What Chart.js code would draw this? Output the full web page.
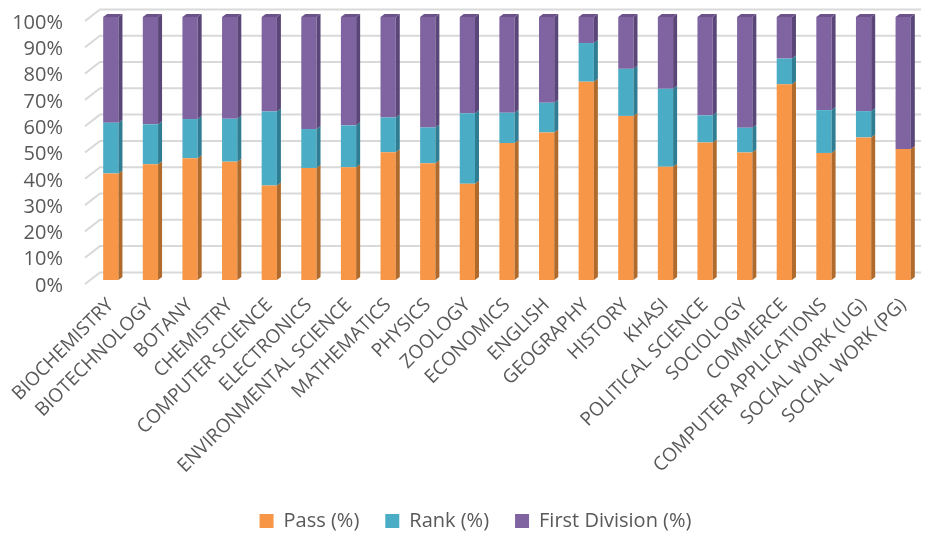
<!DOCTYPE html>
<html>
<head>
<meta charset="utf-8">
<script src="https://cdn.jsdelivr.net/npm/chart.js@4.4.1/dist/chart.umd.min.js"></script>
<style>
  html, body { margin: 0; padding: 0; background: #fff; }
  #wrap { width: 925px; height: 536px; }
</style>
</head>
<body>
<div id="wrap"><canvas id="chart"></canvas></div>
<script>
const categories = ['BIOCHEMISTRY', 'BIOTECHNOLOGY', 'BOTANY', 'CHEMISTRY', 'COMPUTER SCIENCE', 'ELECTRONICS',
    'ENVIRONMENTAL SCIENCE', 'MATHEMATICS', 'PHYSICS', 'ZOOLOGY', 'ECONOMICS', 'ENGLISH', 'GEOGRAPHY', 'HISTORY',
    'KHASI', 'POLITICAL SCIENCE', 'SOCIOLOGY', 'COMMERCE', 'COMPUTER APPLICATIONS', 'SOCIAL WORK (UG)', 'SOCIAL WORK (PG)']

const passPct  = [40.5, 44.0, 46.3, 45.0, 35.9, 42.6, 42.9, 48.6, 44.4, 36.6, 52.1, 56.1, 75.4, 62.4, 43.1, 52.3, 48.5, 74.4, 48.3, 54.2, 49.8]
const rankPct  = [19.3, 15.2, 14.9, 16.3, 28.2, 14.8, 15.9, 13.2, 13.6, 26.8, 11.5, 11.3, 14.7, 17.9, 29.6, 10.3, 9.4, 9.8, 16.3, 10.0, 0]
const firstPct = [40.2, 40.8, 38.8, 38.7, 35.9, 42.6, 41.2, 38.2, 42.0, 36.6, 36.4, 32.6, 9.9, 19.7, 27.3, 37.4, 42.1, 15.8, 35.4, 35.8, 50.2]

const yTicks = [0, 10, 20, 30, 40, 50, 60, 70, 80, 90, 100]

const textColor = '#595959'
const sideColors = ['#b06a2c', '#2f7d92', '#5a4678']
const topColor = '#6b5289'

// back wall gridlines, shifted up/right like the 3D original
const backWall = {
    id: 'backWall',
    beforeDatasetsDraw(chart) {
        const {ctx, chartArea, scales: {y}} = chart
        ctx.save()
        ctx.strokeStyle = '#d9d9d9'
        ctx.lineWidth = 2
        yTicks.forEach(v => {
            const py = y.getPixelForValue(v)
            ctx.beginPath()
            ctx.moveTo(chartArea.left - 6, py + 4)
            ctx.lineTo(chartArea.left + 9, py - 7.6)
            ctx.lineTo(chartArea.right - 2, py - 7.6)
            ctx.stroke()
        })
        ctx.restore()
    }
}

// side and top faces of the bars
const barDepth = {
    id: 'barDepth',
    afterDatasetsDraw(chart) {
        const ctx = chart.ctx
        const dx = 4, dy = 3
        ctx.save()
        chart.data.datasets.forEach((ds, di) => {
            const meta = chart.getDatasetMeta(di)
            meta.data.forEach((bar, i) => {
                if (!ds.data[i]) return
                const {x, y, base, width} = bar.getProps(['x', 'y', 'base', 'width'], true)
                const r = x + width / 2
                ctx.fillStyle = sideColors[di]
                ctx.beginPath()
                ctx.moveTo(r, y)
                ctx.lineTo(r + dx, y - dy)
                ctx.lineTo(r + dx, base - dy)
                ctx.lineTo(r, base)
                ctx.closePath()
                ctx.fill()
                if (di === chart.data.datasets.length - 1) {
                    ctx.fillStyle = topColor
                    ctx.beginPath()
                    ctx.moveTo(x - width / 2, y)
                    ctx.lineTo(x - width / 2 + dx, y - dy)
                    ctx.lineTo(r + dx, y - dy)
                    ctx.lineTo(r, y)
                    ctx.closePath()
                    ctx.fill()
                }
            })
        })
        ctx.restore()
    }
}

// nudge the legend a little lower and to the right
const legendShift = {
    id: 'legendShift',
    afterLayout(chart) {
        chart.legend.top += 5
        chart.legend.bottom += 5
        chart.legend.left += 14
        chart.legend.right += 14
    }
}

new Chart(document.getElementById('chart'), {
    type: 'bar',
    data: {
        labels: categories,
        datasets: [
            { label: 'Pass (%)', data: passPct, backgroundColor: '#f79646' },
            { label: 'Rank (%)', data: rankPct, backgroundColor: '#4bacc6' },
            { label: 'First Division (%)', data: firstPct, backgroundColor: '#8064a2' }
        ]
    },
    options: {
        responsive: true,
        maintainAspectRatio: false,
        animation: false,
        layout: { padding: { top: 17, right: 2, bottom: 0, left: 0 } },
        datasets: { bar: { barPercentage: 0.385, categoryPercentage: 1 } },
        plugins: {
            tooltip: { enabled: false },
            legend: {
                position: 'bottom',
                labels: {
                    color: textColor,
                    font: { family: 'Open Sans', size: 20 },
                    boxWidth: 14,
                    boxHeight: 14,
                    padding: 26
                }
            }
        },
        scales: {
            x: {
                stacked: true,
                grid: { display: false, drawTicks: false },
                border: { display: false },
                ticks: {
                    autoSkip: false,
                    maxRotation: 45,
                    minRotation: 45,
                    padding: 14,
                    color: textColor,
                    font: { family: 'Open Sans', size: 19 }
                },
                afterFit(scale) {
                    scale.height = 200
                    scale.paddingLeft = 0
                    scale.paddingRight = 0
                }
            },
            y: {
                stacked: true,
                min: 0,
                max: 100,
                grid: { display: false, drawTicks: false },
                border: { display: false },
                ticks: {
                    autoSkip: false,
                    stepSize: 10,
                    padding: 28,
                    labelOffset: 6,
                    color: textColor,
                    font: { family: 'Open Sans', size: 20 },
                    callback: v => v + '%'
                },
                afterFit(scale) {
                    scale.width = 91
                    scale.paddingTop = 0
                    scale.paddingBottom = 0
                }
            }
        }
    },
    plugins: [backWall, barDepth, legendShift]
})
</script>
</body>
</html>
